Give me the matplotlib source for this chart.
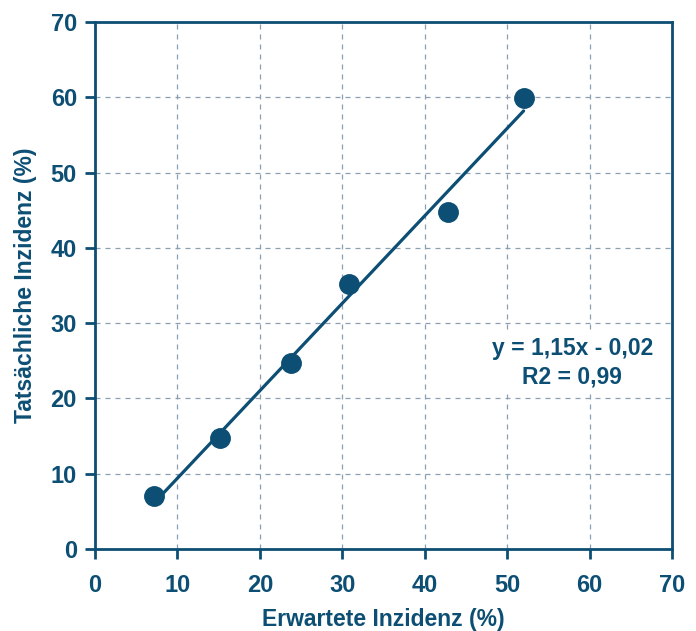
import numpy as np
import matplotlib

matplotlib.use("Agg")
from matplotlib import pyplot as plt

# values
expected = [7.2, 15.2, 23.8, 30.8, 42.8, 52.0]
actual = [7.0, 14.7, 24.7, 35.2, 44.8, 59.9]
ticks = [0, 10, 20, 30, 40, 50, 60, 70]
equation_text = "y = 1,15x - 0,02\nR2 = 0,99"

NAVY = "#0d4f74"
GRID = "#8a9fb0"

plt.rcParams["font.family"] = ["Liberation Sans", "DejaVu Sans"]
plt.rcParams["font.weight"] = "bold"

fig = plt.figure(figsize=(6.96, 6.31), dpi=100)
ax = fig.add_axes([0.1365, 0.13, 0.829, 0.835])

slope, intercept = np.polyfit(expected, actual, 1)
x_fit = np.array([expected[0], expected[-1]])
ax.plot(x_fit, slope * x_fit + intercept, color=NAVY, lw=2.3, zorder=3,
        solid_capstyle="round")
ax.plot(expected, actual, "o", color=NAVY, ms=14, zorder=4)

ax.set_xlim(0, 70)
ax.set_ylim(0, 70)
ax.set_xticks(ticks)
ax.set_yticks(ticks)
ax.grid(True, ls=(0, (4, 4)), color=GRID, lw=0.9)
ax.set_axisbelow(True)
for spine in ax.spines.values():
    spine.set_color(NAVY)
    spine.set_linewidth(2)
ax.tick_params(direction="out", length=7, width=2, color=NAVY,
               labelcolor=NAVY, labelsize=17)
ax.tick_params(axis="x", pad=11)
ax.tick_params(axis="y", pad=6)
for lbl in ax.get_xticklabels() + ax.get_yticklabels():
    lbl.set_fontweight("bold")

ax.set_xlabel("Erwartete Inzidenz (%)", color=NAVY, fontsize=16.5,
              fontweight="bold", labelpad=8)
ax.set_ylabel("Tatsächliche Inzidenz (%)", color=NAVY, fontsize=16.5,
              fontweight="bold", labelpad=10)

ax.text(57.9, 24.8, equation_text, color=NAVY, fontsize=16.5, fontweight="bold",
        ha="center", va="center", linespacing=1.3, zorder=5,
        bbox=dict(facecolor="white", edgecolor="none", pad=4))

fig.savefig("out.png", dpi=100, facecolor="white")
